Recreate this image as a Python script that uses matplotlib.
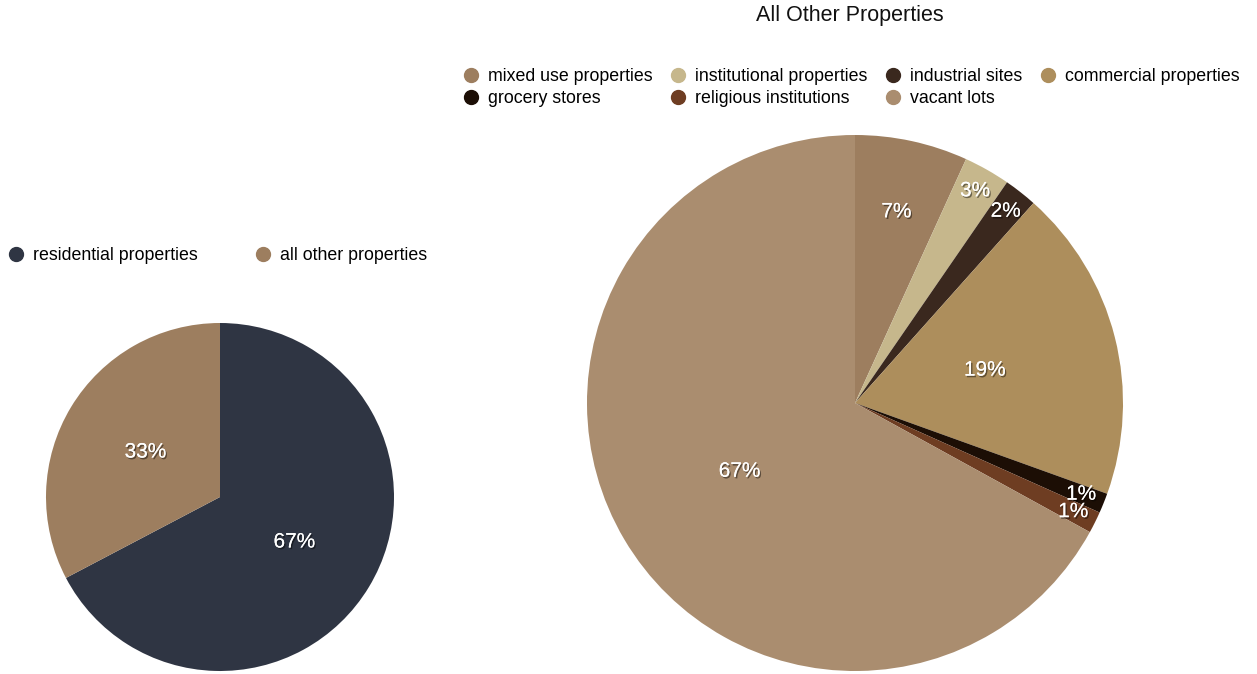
import numpy as np
import matplotlib.pyplot as plt
import matplotlib.patheffects as pe
from matplotlib.lines import Line2D

plt.rcParams['font.family'] = ['Liberation Sans', 'DejaVu Sans']

# overall split
split_labels = ["residential properties", "all other properties"]
split_values = [67.3, 32.7]
split_colors = ["#2f3543", "#9d7e5f"]

# breakdown of the non-residential share
other_labels = ["mixed use properties", "institutional properties", "industrial sites",
                "commercial properties", "grocery stores", "religious institutions",
                "vacant lots"]
other_values = [6.8, 2.8, 2.0, 18.9, 1.2, 1.3, 67.0]
other_colors = ["#9d7e5f", "#c6b78c", "#3a281e", "#ad8e5c", "#1c0e05", "#6e3d22", "#aa8d6f"]

W, H = 1257, 674
fig = plt.figure(figsize=(W / 100, H / 100), dpi=100)

shadow = [pe.withSimplePatchShadow(offset=(1, -1.2), shadow_rgbFace="black", alpha=0.45),
          pe.Normal()]


def draw_pie(ax, values, colors):
    total = float(sum(values))
    ax.pie(values, colors=colors, startangle=90, counterclock=False, radius=1,
           wedgeprops=dict(linewidth=0))
    # percent labels: big slices near the middle, thin ones pushed out
    start = 90.0
    for v in values:
        frac = v / total
        sweep = 360.0 * frac
        mid = np.deg2rad(start - sweep / 2)
        if frac > 0.15:
            r = 0.5
        elif frac > 0.05:
            r = 0.73
        else:
            r = 0.91
        ax.text(r * np.cos(mid), r * np.sin(mid), f"{round(frac * 100):.0f}%",
                ha="center", va="center", color="white", fontsize=15,
                path_effects=shadow)
        start -= sweep
    ax.set_xlim(-1, 1)
    ax.set_ylim(-1, 1)
    ax.set_aspect("equal")
    ax.axis("off")


def px_axes(cx, cy, r):
    return fig.add_axes([(cx - r) / W, (H - cy - r) / H, 2 * r / W, 2 * r / H])


ax_left = px_axes(220, 497, 174)
draw_pie(ax_left, split_values, split_colors)

ax_right = px_axes(855, 403, 268)
draw_pie(ax_right, other_values, other_colors)

fig.text(850 / W, 1 - 16 / H, "All Other Properties", ha="center", va="center",
         fontsize=15.5, color="#111111")


def handles(labels, colors):
    return [Line2D([], [], marker="o", linestyle="", markersize=10,
                   markerfacecolor=c, markeredgecolor=c, label=l)
            for l, c in zip(labels, colors)]


fig.legend(handles=handles(split_labels, split_colors), loc="center left",
           bbox_to_anchor=(7 / W, 1 - 256 / H), ncol=2, frameon=False,
           fontsize=12.8, handletextpad=0.45, columnspacing=3.2,
           handlelength=1.0, borderpad=0, borderaxespad=0)

# legend fills column by column, so interleave to read row by row
order = [0, 4, 1, 5, 2, 6, 3]
fig.legend(handles=[handles(other_labels, other_colors)[i] for i in order],
           loc="upper left", bbox_to_anchor=(462 / W, 1 - 68 / H), ncol=4,
           frameon=False, fontsize=12.8, handletextpad=0.45, columnspacing=0.95,
           handlelength=1.0, borderpad=0, borderaxespad=0, labelspacing=0.28)

fig.savefig("out.png", dpi=100)
